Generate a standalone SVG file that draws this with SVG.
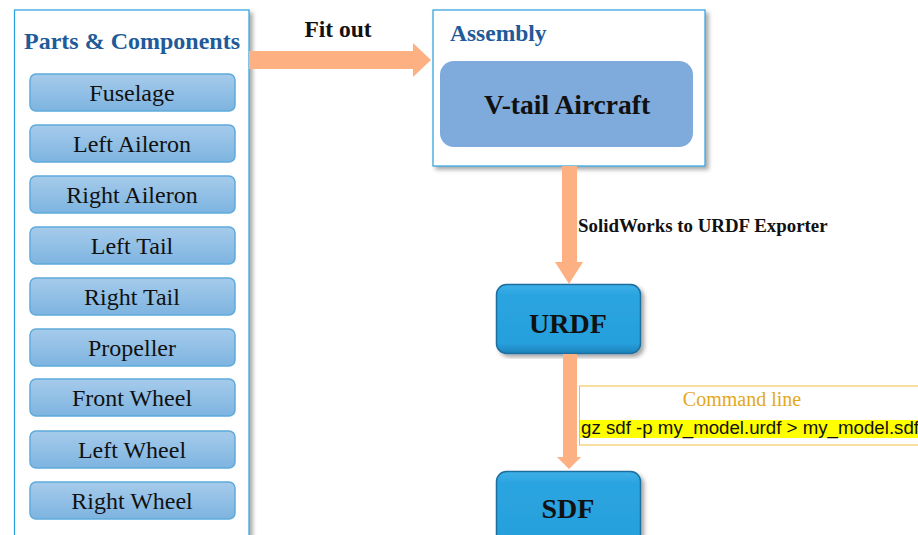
<svg xmlns="http://www.w3.org/2000/svg" width="918" height="535" viewBox="0 0 918 535">
<style>
.part rect{fill:url(#pg);stroke:#5eaadb;stroke-width:1.5}
.part text{font-family:"Liberation Serif",serif;font-size:24px;fill:#111;text-anchor:middle}
.title{font-family:"Liberation Serif",serif;font-weight:bold;fill:#1f5a99}
.bold{font-family:"Liberation Serif",serif;font-weight:bold;fill:#111}
.fmt rect{fill:url(#bg);stroke:#1d6e9e;stroke-width:1.5}
.arrow{fill:#fdb183}
</style>
<defs>
<linearGradient id="pg" x1="0" y1="0" x2="0" y2="1"><stop offset="0" stop-color="#a6cbeb"/><stop offset="1" stop-color="#7db4e0"/></linearGradient>
<linearGradient id="bg" x1="0" y1="0" x2="0" y2="1"><stop offset="0" stop-color="#3fb0e8"/><stop offset="0.15" stop-color="#2aa4e0"/><stop offset="0.85" stop-color="#27a0dc"/><stop offset="1" stop-color="#1d82ba"/></linearGradient>
<filter id="sh" x="-5%" y="-5%" width="112%" height="112%"><feDropShadow dx="3" dy="3" stdDeviation="2" flood-color="#000" flood-opacity="0.35"/></filter>
</defs>

<g id="parts-panel">
<rect x="14.5" y="10" width="234.5" height="540" fill="#fff" stroke="#2aa0dc" stroke-width="1.2" filter="url(#sh)"/>
<text class="title" x="132" y="49" font-size="24" text-anchor="middle">Parts &amp; Components</text>
</g>
<g id="part-fuselage" class="part"><rect x="30" y="74" width="205" height="37" rx="6"/><text x="132" y="101">Fuselage</text></g>
<g id="part-left-aileron" class="part"><rect x="30" y="125" width="205" height="37" rx="6"/><text x="132" y="152">Left Aileron</text></g>
<g id="part-right-aileron" class="part"><rect x="30" y="176" width="205" height="37" rx="6"/><text x="132" y="203">Right Aileron</text></g>
<g id="part-left-tail" class="part"><rect x="30" y="227" width="205" height="37" rx="6"/><text x="132" y="254">Left Tail</text></g>
<g id="part-right-tail" class="part"><rect x="30" y="278" width="205" height="37" rx="6"/><text x="132" y="305">Right Tail</text></g>
<g id="part-propeller" class="part"><rect x="30" y="329" width="205" height="37" rx="6"/><text x="132" y="356">Propeller</text></g>
<g id="part-front-wheel" class="part"><rect x="30" y="379" width="205" height="37" rx="6"/><text x="132" y="406">Front Wheel</text></g>
<g id="part-left-wheel" class="part"><rect x="30" y="431" width="205" height="37" rx="6"/><text x="132" y="458">Left Wheel</text></g>
<g id="part-right-wheel" class="part"><rect x="30" y="482" width="205" height="37" rx="6"/><text x="132" y="509">Right Wheel</text></g>

<g id="assembly">
<rect x="433" y="10" width="272" height="156" fill="#fff" stroke="#2aa0dc" stroke-width="1.2" filter="url(#sh)"/>
<text class="title" x="450" y="41" font-size="23.5">Assembly</text>
<rect x="440" y="61" width="253" height="86" rx="14" fill="#7eaadc"/>
<text class="bold" x="567" y="114" font-size="27.5" text-anchor="middle">V-tail Aircraft</text>
</g>

<g id="urdf" class="fmt">
<rect x="496.5" y="284.5" width="144" height="69" rx="10" filter="url(#sh)"/>
<text class="bold" x="568" y="333" font-size="28" text-anchor="middle">URDF</text>
</g>
<g id="sdf" class="fmt">
<rect x="496.5" y="471.5" width="144" height="80" rx="10" filter="url(#sh)"/>
<text class="bold" x="568" y="518" font-size="28" text-anchor="middle">SDF</text>
</g>

<g id="connectors">
<polygon class="arrow" points="249,51 413,51 413,43 431,60 413,77 413,69 249,69"/>
<text class="bold" x="338" y="37" font-size="23.5" text-anchor="middle">Fit out</text>
<polygon class="arrow" points="562,166 577,166 577,262 583,262 569,284 555,262 562,262"/>
<text class="bold" x="578" y="232" font-size="18.9">SolidWorks to URDF Exporter</text>
<polygon class="arrow" points="563,354 577,354 577,457 581,457 569,469 557,457 563,457"/>
</g>

<g id="command-line">
<rect x="579.5" y="386" width="345" height="59" fill="#fff" stroke="#f4c040" stroke-width="1"/>
<text x="742" y="406" font-family="Liberation Serif,serif" font-size="20" fill="#e4a81c" text-anchor="middle">Command line</text>
<rect x="580" y="420" width="345" height="18" fill="#ffff00"/>
<text x="581" y="434" font-family="Liberation Sans,Arial,sans-serif" font-size="18" fill="#111" textLength="338" lengthAdjust="spacingAndGlyphs">gz sdf -p my_model.urdf &gt; my_model.sdf</text>
</g>
</svg>
